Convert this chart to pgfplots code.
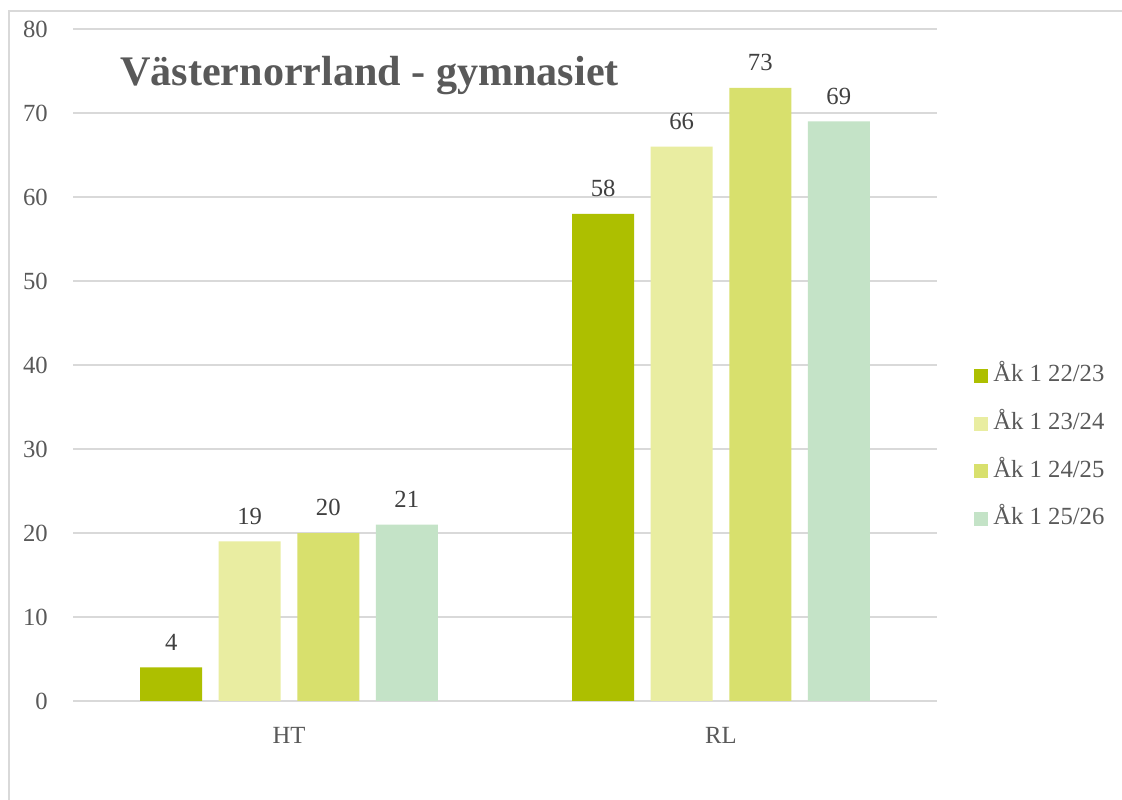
\documentclass[border=0pt]{standalone}
\usepackage{pgfplots}
\pgfplotsset{compat=1.18}
\usepackage{fontspec}
\setmainfont{Liberation Serif}
\definecolor{c1}{HTML}{ADBF00}
\definecolor{c2}{HTML}{E9EDA1}
\definecolor{c3}{HTML}{D8E06D}
\definecolor{c4}{HTML}{C4E3C7}
\definecolor{txt}{HTML}{595959}
\definecolor{lbl}{HTML}{404040}
\definecolor{gridc}{HTML}{D9D9D9}
\begin{document}
\begin{tikzpicture}
\useasboundingbox (0,0) rectangle (841.5pt,600pt);
\fill[white] (0,0) rectangle (841.5pt,600pt);
\draw[gridc, line width=1.5pt] (6.75pt,-5pt) -- (6.75pt,591.75pt) -- (850pt,591.75pt);
\begin{axis}[
  at={(54.75pt,74.25pt)}, anchor=south west,
  width=648pt, height=504pt, scale only axis,
  /pgf/number format/assume math mode=true,
  ybar=12.4pt, bar width=46.5pt,
  xmin=-0.5, xmax=1.5, ymin=0, ymax=80,
  xtick={0,1}, xticklabels={HT,RL},
  ytick={0,10,...,80},
  axis line style={draw=none},
  major tick length=0pt,
  ymajorgrids, grid style={draw=gridc, line width=1.1pt},
  tick label style={font=\fontsize{18.5}{20}\selectfont, text=txt},
  yticklabel style={anchor=east, inner sep=0pt, xshift=-18.75pt},
  xticklabel style={anchor=north, inner sep=0pt, yshift=-19.5pt},
  nodes near coords,
  every node near coord/.append style={font=\fontsize{18.5}{20}\selectfont, text=lbl, inner sep=0pt, anchor=south, yshift=12.5pt},
  legend style={draw=none, fill=none, at={(rel axis cs:1.038,0.505)}, anchor=north west,
    font=\fontsize{18.5}{20}\selectfont, text=txt, row sep=18.7pt,
    nodes={inner sep=0pt, text height=13pt, text depth=4pt},
    /tikz/every even column/.append style={column sep=0pt}},
  legend cell align=left,
  legend image code/.code={\fill[#1] (0pt,-5.25pt) rectangle (10.5pt,5.25pt);\path (14.5pt,0pt);},
]
\addplot[fill=c1, draw=none] coordinates {(0,4) (1,58)};
\addplot[fill=c2, draw=none] coordinates {(0,19) (1,66)};
\addplot[fill=c3, draw=none] coordinates {(0,20) (1,73)};
\addplot[fill=c4, draw=none] coordinates {(0,21) (1,69)};
\legend{Åk 1 22/23, Åk 1 23/24, Åk 1 24/25, Åk 1 25/26}
\end{axis}
\node[anchor=base west, inner sep=0pt, text=txt, font=\fontsize{31.6}{34}\selectfont\bfseries] at (90pt,536pt) {Västernorrland - gymnasiet};
\end{tikzpicture}
\end{document}
